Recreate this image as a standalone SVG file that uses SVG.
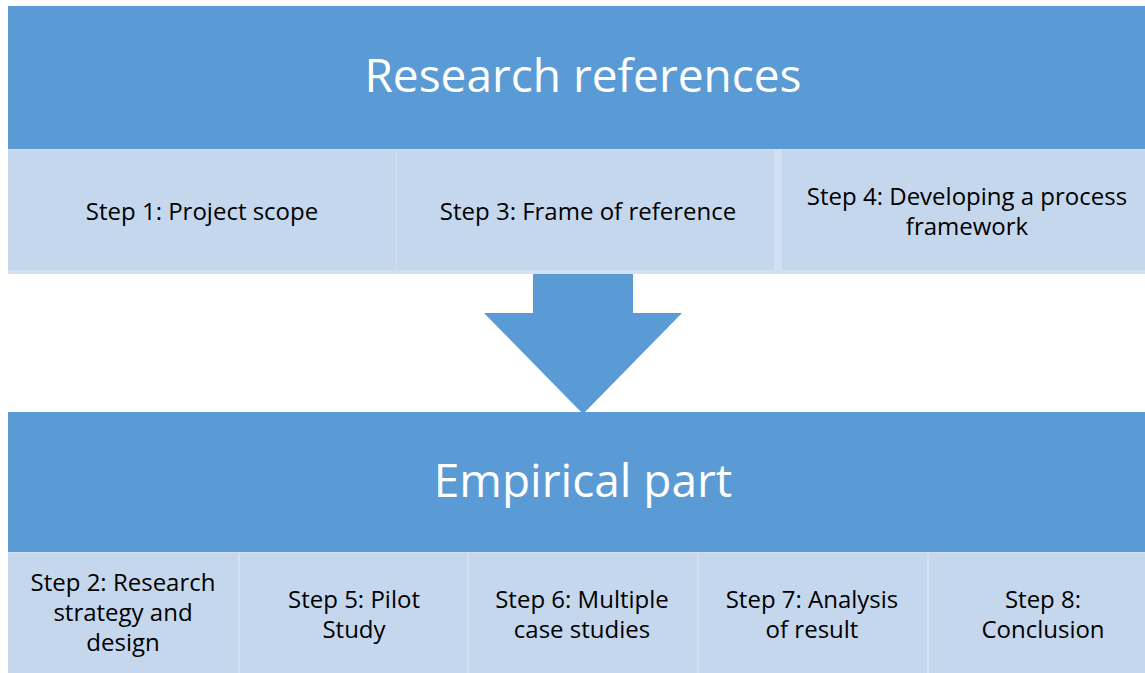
<svg xmlns="http://www.w3.org/2000/svg" width="1145" height="673" viewBox="0 0 1145 673">
  <style>
    .band { fill: #5B9BD5; }
    .cell { fill: #C5D7EC; }
    .sep { fill: #D3E0F1; }
    .title { font-family: "Open Sans", "Liberation Sans", sans-serif; font-size: 46px; fill: #FFFFFF; text-anchor: middle; }
    .lbl { font-family: "Open Sans", "Liberation Sans", sans-serif; font-size: 24px; fill: #000000; text-anchor: middle; }
  </style>
  <rect width="1145" height="673" fill="#FFFFFF"/>

  <!-- connector: large down arrow between the two sections -->
  <g id="connectors">
    <polygon class="band" points="533,262 633,262 633,313 682,313 583,414 484,313 533,313"/>
  </g>

  <!-- upper section -->
  <g id="research-references">
    <rect class="band" x="8" y="6" width="1137" height="143"/>
    <text class="title" x="583" y="92">Research references</text>
  </g>
  <rect class="sep" x="8" y="149" width="1137" height="125"/>
  <g id="step1">
    <rect class="cell" x="8" y="150" width="388" height="120"/>
    <text class="lbl" x="202" y="220">Step 1: Project scope</text>
  </g>
  <g id="step3">
    <rect class="cell" x="397" y="150" width="377" height="120"/>
    <text class="lbl" x="588" y="220">Step 3: Frame of reference</text>
  </g>
  <g id="step4">
    <rect class="cell" x="782" y="150" width="363" height="120"/>
    <text class="lbl" x="967" y="205">Step 4: Developing a process</text>
    <text class="lbl" x="967" y="235">framework</text>
  </g>

  <!-- lower section -->
  <g id="empirical-part">
    <rect class="band" x="8" y="412" width="1137" height="140"/>
    <text class="title" x="583" y="497">Empirical part</text>
  </g>
  <rect class="sep" x="8" y="552" width="1137" height="121"/>
  <g id="step2">
    <rect class="cell" x="8" y="553" width="230" height="120"/>
    <text class="lbl" x="123" y="591">Step 2: Research</text>
    <text class="lbl" x="123" y="621">strategy and</text>
    <text class="lbl" x="123" y="651">design</text>
  </g>
  <g id="step5">
    <rect class="cell" x="240" y="553" width="227" height="120"/>
    <text class="lbl" x="354" y="608">Step 5: Pilot</text>
    <text class="lbl" x="354" y="638">Study</text>
  </g>
  <g id="step6">
    <rect class="cell" x="469" y="553" width="228" height="120"/>
    <text class="lbl" x="582" y="608">Step 6: Multiple</text>
    <text class="lbl" x="582" y="638">case studies</text>
  </g>
  <g id="step7">
    <rect class="cell" x="699" y="553" width="228" height="120"/>
    <text class="lbl" x="812" y="608">Step 7: Analysis</text>
    <text class="lbl" x="812" y="638">of result</text>
  </g>
  <g id="step8">
    <rect class="cell" x="929" y="553" width="216" height="120"/>
    <text class="lbl" x="1043" y="608">Step 8:</text>
    <text class="lbl" x="1043" y="638">Conclusion</text>
  </g>
</svg>
